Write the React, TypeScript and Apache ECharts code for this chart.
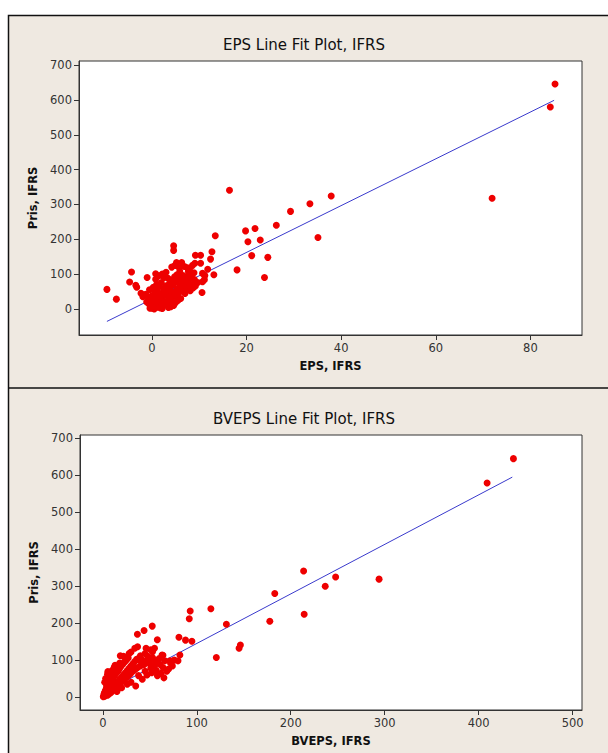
import React, { useEffect, useRef } from "react";
import * as echarts from "echarts";

// EPS vs price (top plot)
const epsOuter: number[][] = [
  [85.2, 646], [84.2, 580], [71.9, 318], [16.4, 341], [37.9, 324], [33.4, 302], [29.3, 280],
  [26.3, 240], [21.8, 231], [19.8, 224], [20.3, 193], [22.9, 198], [35.1, 205], [13.4, 210],
  [12.7, 164], [12.4, 143], [21.1, 153], [24.5, 148], [18.0, 112], [23.8, 90], [13.1, 98],
  [11.8, 114], [10.6, 47], [11.1, 84], [9.2, 154], [10.3, 154], [4.6, 181], [4.6, 168],
  [-4.3, 106], [-1.0, 90], [-4.7, 77], [-3.4, 68], [-3.2, 62], [-9.5, 56], [-7.5, 28],
  [-2.3, 45], [-1.9, 35], [0.8, 101], [5.2, 133], [6.3, 133], [9.1, 131], [10.3, 131],
  [8.0, 117], [10.7, 78], [8.6, 125], [7.5, 118], [10.7, 102], [11.2, 96]
];
const epsCluster: number[][] = [
  [0.1, 2], [0.4, 6], [0.9, 4], [1.3, 9], [-0.3, 8], [-0.6, 14], [0.2, 16], [0.7, 12], [1.6, 14],
  [2.1, 6], [2.4, 11], [1.9, 20], [-1.1, 20], [-0.2, 24], [0.5, 22], [1.1, 27], [2.6, 20], [3.0, 13],
  [3.4, 24], [3.8, 17], [0.9, 33], [0.0, 38], [-0.7, 30], [1.4, 38], [1.8, 44], [2.3, 34], [2.8, 40],
  [3.2, 47], [3.6, 34], [4.1, 27], [4.4, 40], [4.0, 52], [4.6, 48], [5.0, 36], [5.3, 58], [5.7, 46],
  [6.0, 66], [6.3, 55], [6.6, 72], [6.9, 58], [7.2, 66], [7.6, 79], [7.9, 62], [8.3, 70], [8.7, 60],
  [3.0, 66], [2.5, 58], [3.7, 72], [4.3, 83], [4.8, 92], [3.4, 88], [2.0, 76], [1.2, 58], [0.7, 50],
  [1.6, 66], [5.3, 98], [5.9, 108], [6.6, 96], [7.1, 88], [7.9, 98], [2.6, 90], [4.0, 6], [5.0, 18],
  [2.2, 1], [1.7, 3], [0.5, 0], [-0.4, 2], [6.1, 30], [5.5, 24], [7.0, 44], [8.1, 52], [9.2, 66],
  [9.7, 76], [2.9, 52], [3.3, 60], [3.9, 64], [4.5, 70], [5.1, 77], [5.6, 84], [6.2, 90], [6.8, 82],
  [7.4, 92], [8.4, 88], [9.0, 84], [1.0, 70], [0.3, 62], [-0.5, 55], [0.8, 85], [1.5, 95], [2.2, 100],
  [3.0, 105], [4.2, 120], [4.9, 125], [5.8, 118], [6.9, 122], [7.7, 108], [8.9, 104], [-1.3, 42],
  [4.6, 10], [3.5, 4]
];
const epsFitLine: number[][] = [[-9.5, -36], [85.0, 599]];

// BVEPS vs price (bottom plot)
const bvepsOuter: number[][] = [
  [437, 645], [409, 579], [294, 319], [213.7, 341], [247.8, 325], [236.7, 300], [183, 280],
  [115, 239], [93, 233], [92, 212], [214.3, 224], [131.5, 197], [177.7, 205], [52.6, 192],
  [43.9, 180], [36.8, 170], [58, 155], [81, 162], [88, 154], [94.8, 151], [146.4, 141],
  [145, 132], [120.8, 107], [82, 114], [80, 98], [71.5, 98], [18.6, 112], [34, 132], [30, 122],
  [46, 132], [55, 132], [53, 123], [63, 114], [5.4, 69], [15.8, 82], [37, 136], [51, 128], [64, 113]
];
const bvepsCluster: number[][] = [
  [0.5, 1], [1, 4], [2, 2], [3, 7], [1.5, 10], [4, 12], [5, 5], [6, 14], [2.5, 16], [7, 9], [8, 18],
  [3.5, 22], [9, 13], [10, 24], [5, 26], [11, 19], [12, 30], [6.5, 32], [13, 23], [14, 36], [8, 38],
  [15, 28], [16, 42], [9.5, 45], [17, 33], [18, 48], [11, 52], [19, 38], [20, 54], [12.5, 58], [21, 44],
  [22, 60], [14, 64], [23, 49], [24, 66], [16, 70], [25, 53], [26, 72], [17.5, 76], [27, 58], [28, 78],
  [19, 82], [29, 62], [30, 84], [21, 88], [31, 68], [32, 90], [23, 94], [33, 72], [34, 96], [25, 100],
  [35, 76], [36, 102], [27, 106], [37, 80], [38, 104], [40, 84], [41, 94], [42, 100], [44, 88], [45, 70],
  [46, 96], [47, 60], [48, 102], [50, 90], [51, 78], [52, 66], [53, 106], [55, 84], [56, 96], [57, 72],
  [58, 58], [60, 104], [61, 88], [62, 64], [64, 80], [65, 52], [66, 98], [68, 70], [70, 76], [72, 92],
  [74, 84], [76, 100], [4, 30], [6, 44], [3, 50], [5, 62], [8, 56], [2, 40], [7, 66], [10, 72], [12, 80],
  [4, 20], [38, 58], [42, 48], [30, 40], [35, 30], [26, 35], [20, 25], [15, 15], [9, 60], [13, 86],
  [18, 92], [22, 110], [28, 118], [40, 112], [45, 118], [48, 110]
];
const bvepsFitLine: number[][] = [[0.5, 11.7], [435.8, 595]];

const epsTicks = [0, 20, 40, 60, 80];
const bvepsTicks = [0, 100, 200, 300, 400, 500];
const priceTicks = [0, 100, 200, 300, 400, 500, 600, 700];

const FONT = "DejaVu Sans";
const BG = "#EFE9E1";
const RED = "#EE0000";
const BLUE = "#3A3ACC";

function xAxisDef(gridIndex: number, name: string, min: number, max: number, ticks: number[]) {
  return {
    type: "value",
    gridIndex,
    min,
    max,
    name,
    nameLocation: "middle",
    nameGap: 25,
    nameTextStyle: { fontFamily: FONT, fontSize: 11.5, fontWeight: "bold", color: "#111" },
    axisLine: { show: true, onZero: false, lineStyle: { color: "#333", width: 1 } },
    axisTick: { show: true, length: 5, lineStyle: { color: "#333" }, customValues: ticks },
    axisLabel: { fontFamily: FONT, fontSize: 11.5, color: "#333", margin: 7, customValues: ticks },
    splitLine: { show: false },
  };
}

function yAxisDef(gridIndex: number, min: number, max: number) {
  return {
    type: "value",
    gridIndex,
    min,
    max,
    name: "Pris, IFRS",
    nameLocation: "middle",
    nameGap: 39,
    nameTextStyle: { fontFamily: FONT, fontSize: 11.5, fontWeight: "bold", color: "#111" },
    axisLine: { show: true, onZero: false, lineStyle: { color: "#333", width: 1 } },
    axisTick: { show: true, length: 5, lineStyle: { color: "#333" }, customValues: priceTicks },
    axisLabel: { fontFamily: FONT, fontSize: 11.5, color: "#333", margin: 7, customValues: priceTicks },
    splitLine: { show: false },
  };
}

export default function App() {
  const ref = useRef<HTMLDivElement>(null);
  useEffect(() => {
    if (!ref.current) return;
    const chart = echarts.init(ref.current, null, { renderer: "svg" });
    const scatterStyle = { color: RED, opacity: 1 };
    chart.setOption({
      animation: false,
      backgroundColor: "#ffffff",
      graphic: [
        {
          type: "rect",
          z: -10,
          shape: { x: 8.5, y: 15.5, width: 640, height: 780 },
          style: { fill: BG, stroke: "#111", lineWidth: 1.5 },
          silent: true,
        },
        {
          type: "line",
          z: -9,
          shape: { x1: 8, y1: 388, x2: 640, y2: 388 },
          style: { stroke: "#111", lineWidth: 1.5 },
          silent: true,
        },
      ],
      title: [
        {
          text: "EPS Line Fit Plot, IFRS",
          left: "center",
          top: 32,
          textStyle: { fontFamily: FONT, fontSize: 15, fontWeight: "normal", color: "#111" },
        },
        {
          text: "BVEPS Line Fit Plot, IFRS",
          left: "center",
          top: 406,
          textStyle: { fontFamily: FONT, fontSize: 15, fontWeight: "normal", color: "#111" },
        },
      ],
      grid: [
        { left: 79, top: 61, width: 503, height: 274, show: true, backgroundColor: "#fff", borderColor: "#333", borderWidth: 1 },
        { left: 80, top: 435, width: 502, height: 275, show: true, backgroundColor: "#fff", borderColor: "#333", borderWidth: 1 },
      ],
      xAxis: [
        xAxisDef(0, "EPS, IFRS", -15.4, 90.9, epsTicks),
        xAxisDef(1, "BVEPS, IFRS", -24.3, 510, bvepsTicks),
      ],
      yAxis: [yAxisDef(0, -75, 712), yAxisDef(1, -35, 709)],
      series: [
        {
          type: "line",
          xAxisIndex: 0,
          yAxisIndex: 0,
          data: epsFitLine,
          symbol: "none",
          lineStyle: { color: BLUE, width: 1 },
          z: 1,
        },
        {
          type: "scatter",
          xAxisIndex: 0,
          yAxisIndex: 0,
          data: [...epsCluster, ...epsOuter],
          symbol: "circle",
          symbolSize: 7,
          itemStyle: scatterStyle,
          z: 2,
        },
        {
          type: "line",
          xAxisIndex: 1,
          yAxisIndex: 1,
          data: bvepsFitLine,
          symbol: "none",
          lineStyle: { color: BLUE, width: 1 },
          z: 1,
        },
        {
          type: "scatter",
          xAxisIndex: 1,
          yAxisIndex: 1,
          data: [...bvepsCluster, ...bvepsOuter],
          symbol: "circle",
          symbolSize: 7,
          itemStyle: scatterStyle,
          z: 2,
        },
      ],
    });
    return () => chart.dispose();
  }, []);
  return (
    <div
      ref={ref}
      style={{ position: "fixed", left: 0, top: 0, width: 608, height: 753 }}
    />
  );
}
